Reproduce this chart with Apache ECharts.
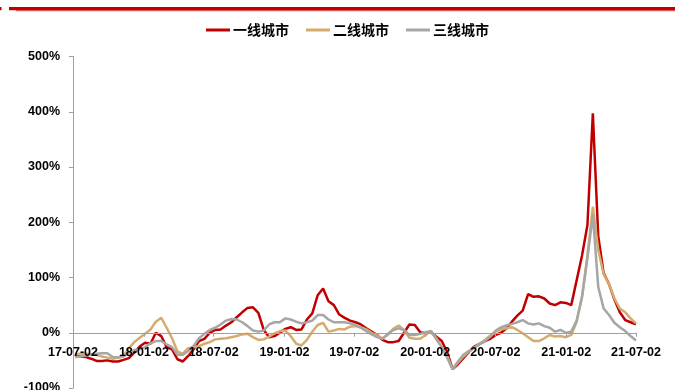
<!DOCTYPE html>
<html>
<head>
<meta charset="utf-8">
<script src="https://cdn.jsdelivr.net/npm/echarts@6/dist/echarts.min.js"></script>
<style>
  html, body { margin: 0; padding: 0; background: #fff; }
  #chart { width: 675px; height: 390px; }
</style>
</head>
<body>
<div id="chart"></div>
<script>
// Series names
const seriesNames = ['一线城市', '二线城市', '三线城市'];

// Bi-weekly observations starting 2017-07-07 (14-day spacing)
const startDate = Date.UTC(2017, 6, 7);
const stepDays = 14;

// 一线城市 (%)
const tier1 = [
  -40, -43, -44, -47, -51, -51, -50, -52, -52, -49,
  -46, -36, -25, -18, -20, 0, -6, -26, -30, -48,
  -52, -42, -30, -15, -11, 0, 5, 6, 13, 19,
  28, 37, 45, 46, 36, 5, -8, -6, 0, 7,
  10, 5, 6, 24, 35, 68, 80, 57, 50, 33,
  27, 22, 19, 15, 8, 2, -4, -13, -17, -17,
  -15, 0, 15, 14, 1, -1, 1, -7, -15, -35,
  -66, -57, -46, -35, -25, -20, -15, -11, -4, 0,
  8, 20, 31, 40, 70, 65, 66, 62, 53, 50,
  55, 54, 50, 95, 140, 195, 397, 175, 108, 88,
  60, 37, 23, 19, 15
];

// 二线城市 (%)
const tier2 = [
  -39, -38, -38, -39, -40, -43, -45, -47, -45, -42,
  -28, -17, -9, -2, 6, 20, 27, 9, -10, -34,
  -38, -28, -26, -24, -20, -17, -12, -11, -10, -8,
  -6, -3, -2, -8, -13, -12, -7, -1, 3, 4,
  -6, -20, -23, -13, 2, 14, 18, 2, 4, 7,
  6, 11, 12, 10, 6, 0, -5, -10, -4, 7,
  13, 5, -9, -11, -11, -4, 3, -10, -26, -42,
  -66, -54, -43, -34, -27, -20, -13, -5, 2, 6,
  8, 10, 5, -1, -8, -15, -15, -10, -4, -7,
  -6, -8, -4, 20, 65, 140, 228, 150, 106, 88,
  62, 44, 37, 26, 17
];

// 三线城市 (%)
const tier3 = [
  -44, -43, -41, -39, -38, -37, -37, -44, -45, -43,
  -36, -31, -30, -26, -19, -15, -15, -21, -26, -40,
  -40, -33, -24, -10, -2, 5, 9, 15, 22, 25,
  24, 19, 12, 4, 2, 4, 15, 19, 19, 26,
  24, 20, 17, 19, 22, 32, 32, 24, 19, 19,
  19, 17, 14, 9, 3, -3, -8, -11, -2, 5,
  8, 5, -4, -4, -2, 1, 3, -12, -26, -45,
  -66, -52, -40, -33, -27, -21, -15, -7, 4, 10,
  13, 16, 19, 23, 17, 15, 17, 12, 9, 2,
  5, 0, 2, 22, 65, 135, 214, 83, 44, 32,
  18, 10, 3, -6, -14
];

// X-axis tick labels (yy-MM-dd)
const tickLabels = ['17-07-02', '18-01-02', '18-07-02', '19-01-02', '19-07-02',
                    '20-01-02', '20-07-02', '21-01-02', '21-07-02'];

// Y-axis range
const yMin = -100, yMax = 500, yStep = 100;

const colors = ['#C00000', '#D6AB6E', '#A6A6A6'];

const DAY = 86400000;
function toTime(label) {
  const p = label.split('-');
  return Date.UTC(2000 + Number(p[0]), Number(p[1]) - 1, Number(p[2]));
}
// x positions are days elapsed since the first tick date
const origin = toTime(tickLabels[0]);
const tickDays = tickLabels.map(l => Math.round((toTime(l) - origin) / DAY));
const firstDay = Math.round((startDate - origin) / DAY);

function pairs(values) {
  return values.map((v, i) => [firstDay + i * stepDays, v]);
}

// Plot area
const H = 390, gridTop = 56.5, gridBottom = 2;
const gridHeight = H - gridTop - gridBottom;
// lift the date axis from the bottom edge up to the 0% level
const zeroOffset = -gridHeight * (0 - yMin) / (yMax - yMin);

const chart = echarts.init(document.getElementById('chart'), null, { renderer: 'canvas' });

const baseFont = '"Liberation Sans", Arial, sans-serif';

chart.setOption({
  animation: false,
  backgroundColor: '#ffffff',
  color: colors,
  graphic: [
    { type: 'rect', shape: { x: 9, y: 7, width: 666, height: 3.3 }, style: { fill: '#C00000' }, silent: true },
    { type: 'rect', shape: { x: 16, y: 10.3, width: 659, height: 1 }, style: { fill: '#D94040' }, silent: true },
    { type: 'rect', shape: { x: 0, y: 7, width: 1.5, height: 3.3 }, style: { fill: '#C00000' }, silent: true }
  ],
  legend: {
    data: seriesNames,
    left: 201,
    top: 18,
    icon: 'rect',
    itemWidth: 24,
    itemHeight: 3,
    itemGap: 17,
    textStyle: {
      color: '#000',
      fontSize: 14,
      fontWeight: 'bold',
      fontFamily: '"Noto Sans CJK SC", sans-serif',
      padding: [0, 0, 0, -2]
    }
  },
  grid: { left: 73, right: 39, top: gridTop, bottom: gridBottom, containLabel: false, outerBoundsMode: 'none' },
  xAxis: {
    type: 'value',
    position: 'bottom',
    offset: zeroOffset,
    min: 0,
    max: tickDays[tickDays.length - 1],
    z: 5,
    axisLine: { onZero: false, lineStyle: { color: '#A0A0A0', width: 1 } },
    axisTick: { show: true, length: 4, customValues: tickDays, lineStyle: { color: '#A0A0A0' } },
    splitLine: { show: false },
    axisLabel: {
      customValues: tickDays,
      margin: 13,
      color: '#000',
      fontSize: 12.5,
      fontWeight: 'bold',
      fontFamily: baseFont,
      formatter: function (val) {
        const idx = tickDays.indexOf(Math.round(val));
        return idx >= 0 ? tickLabels[idx] : '';
      }
    }
  },
  yAxis: {
    type: 'value',
    min: yMin,
    max: yMax,
    interval: yStep,
    axisLine: { show: true, lineStyle: { color: '#A0A0A0', width: 1 } },
    axisTick: { show: true, length: 4, lineStyle: { color: '#A0A0A0' } },
    splitLine: { show: false },
    axisLabel: {
      margin: 13,
      color: '#000',
      fontSize: 12.5,
      fontWeight: 'bold',
      fontFamily: baseFont,
      formatter: '{value}%'
    }
  },
  series: [
    { name: seriesNames[0], type: 'line', z: 1, data: pairs(tier1), showSymbol: false, lineStyle: { width: 2.5 } },
    { name: seriesNames[1], type: 'line', z: 1, data: pairs(tier2), showSymbol: false, lineStyle: { width: 2.5 } },
    { name: seriesNames[2], type: 'line', z: 1, data: pairs(tier3), showSymbol: false, lineStyle: { width: 2.5 } }
  ]
});
</script>
</body>
</html>
